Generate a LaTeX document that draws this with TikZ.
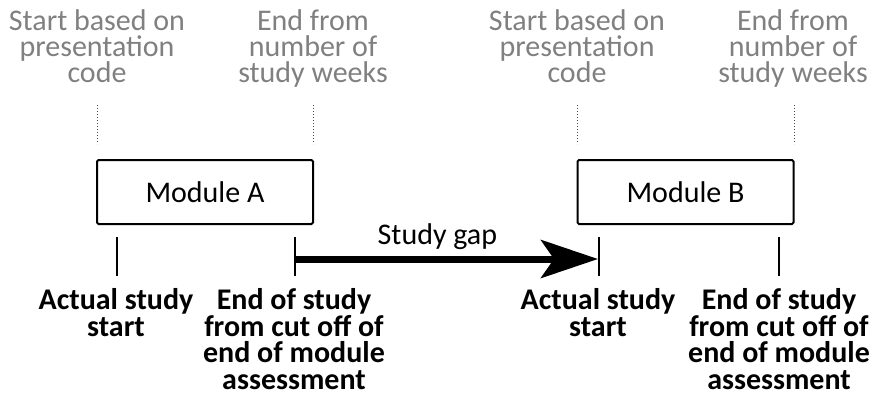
\documentclass[tikz,border=0pt]{standalone}
\usepackage{fontspec}
\setmainfont{Carlito}
\usetikzlibrary{arrows.meta}

\definecolor{planGrey}{RGB}{128,128,128}

\tikzset{
  module/.style={draw, line width=2pt, rounded corners=1.5pt, minimum width=216pt,
    minimum height=64pt, inner sep=0pt, font=\fontsize{30}{26.5}\selectfont},
  plan/.style={align=center, text=planGrey, inner sep=0pt, anchor=north,
    font=\fontsize{30}{26.3}\selectfont},
  actual/.style={align=center, inner sep=0pt, anchor=north,
    font=\bfseries\fontsize{30}{26.8}\selectfont},
  guide/.style={dotted, line width=1pt, black!70},
  marker/.style={line width=1.3pt},
  gap/.style={line width=7pt, -{Stealth[length=57pt, width=38pt, inset=13pt]}},
}

\begin{document}
\begin{tikzpicture}[x=1pt, y=-1pt]
    \useasboundingbox (0,0) rectangle (876,397);

    % Module boxes
    \node[module] (moduleA) at (205,192) {Module A};
    \node[module] (moduleB) at (685.5,192) {Module B};

    % Planned dates (grey, above the boxes)
    \node[plan] (planStartA) at (97,9) {Start based on\\presentation\\code};
    \node[plan] (planEndA) at (313,9) {End from\\number of\\study weeks};
    \node[plan] (planStartB) at (577,9) {Start based on\\presentation\\code};
    \node[plan] (planEndB) at (793,9) {End from\\number of\\study weeks};

    % Dotted guides down to the box edges
    \foreach \x in {97,313,577,794}
        \draw[guide] (\x,105) -- (\x,144);

    % Actual study dates (markers under the boxes)
    \coordinate (startA) at (117,237);
    \coordinate (endA) at (295,237);
    \coordinate (startB) at (599,237);
    \coordinate (endB) at (779,237);
    \foreach \m in {startA,endA,startB,endB}
        \draw[marker] (\m) -- ++(0,39);

    \node[actual] (actStartA) at (116,288) {Actual study\\start};
    \node[actual] (actEndA) at (294,288) {End of study\\from cut off of\\end of module\\assessment};
    \node[actual] (actStartB) at (598,288) {Actual study\\start};
    \node[actual] (actEndB) at (779,288) {End of study\\from cut off of\\end of module\\assessment};

    % Gap between the two modules
    \draw[gap] ([yshift=-22pt]endA) -- node[pos=0.47, above=5.5pt, inner sep=0pt,
        font=\fontsize{30}{26.5}\selectfont] (gapLabel) {Study gap}
        ([yshift=-22pt, xshift=-1pt]startB);
\end{tikzpicture}
\end{document}
